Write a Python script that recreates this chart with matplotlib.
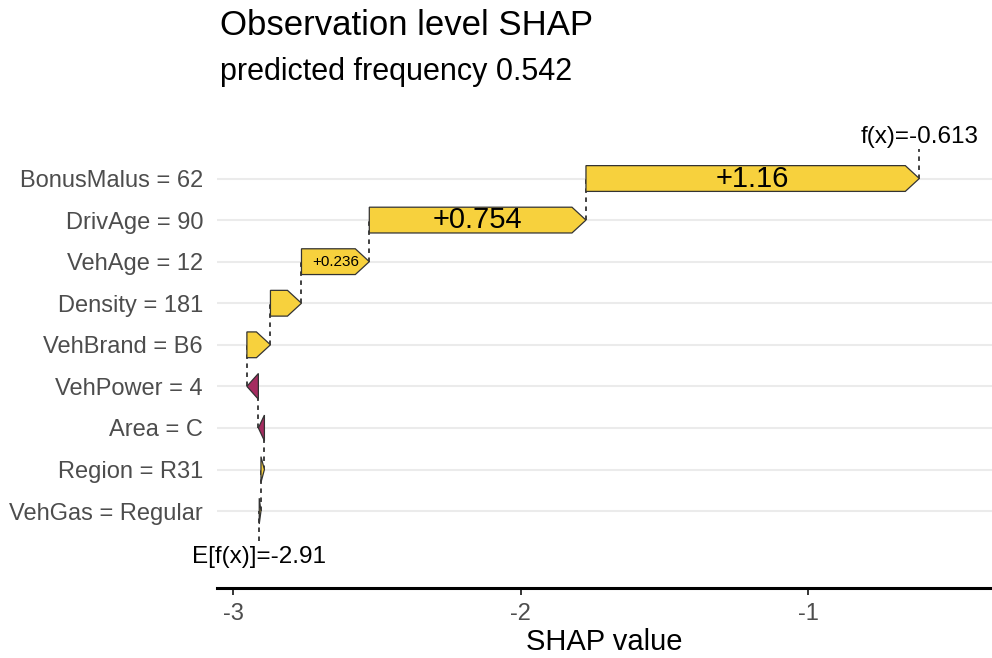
import numpy as np
import matplotlib.pyplot as plt
from matplotlib.patches import Polygon

plt.rcParams['font.family'] = ['Liberation Sans', 'DejaVu Sans']

# Features from bottom to top (order of accumulation)
features = ["VehGas = Regular", "Region = R31", "Area = C", "VehPower = 4",
            "VehBrand = B6", "Density = 181", "VehAge = 12", "DrivAge = 90",
            "BonusMalus = 62"]
shap_vals = [0.006, 0.012, -0.021, -0.040, 0.082, 0.108, 0.236, 0.754, 1.16]
base_value = -2.91
pred_value = -0.613
xticks = [-3, -2, -1]

pos_col = "#f7d13d"
neg_col = "#a52c60"

fig = plt.figure(figsize=(9.92, 6.58), dpi=100)
ax = fig.add_axes([217 / 992, 1 - 588 / 658, 1 - 217 / 992, (588 - 112) / 658])
xmin, xmax = -3.057, -0.36
ax.set_xlim(xmin, xmax)
ax.set_ylim(-0.85, 10.6)

# pixels -> data units
px_x = (xmax - xmin) / (992 - 217)
head = 14 * px_x
half_h = 0.31

n = len(features)
ypos = np.arange(1, n + 1)
starts = base_value + np.concatenate([[0], np.cumsum(shap_vals)[:-1]])
ends = base_value + np.cumsum(shap_vals)

for y in ypos:
    ax.axhline(y, color="#ebebeb", lw=1.5, zorder=0)

# dashed connectors
dash = dict(color="#333333", lw=1.3, ls=(0, (2.5, 2.5)), zorder=1)
ax.plot([base_value, base_value], [0.28, 1], **dash)
for i in range(n - 1):
    ax.plot([ends[i], ends[i]], [ypos[i], ypos[i + 1]], **dash)
ax.plot([pred_value, pred_value], [ypos[-1], 9.72], **dash)

for y, s, e, v in zip(ypos, starts, ends, shap_vals):
    d = np.sign(e - s)
    w = abs(e - s)
    if w > head:
        pts = [(s, y - half_h), (e - d * head, y - half_h), (e, y),
               (e - d * head, y + half_h), (s, y + half_h)]
    else:
        pts = [(s, y - half_h), (e, y), (s, y + half_h)]
    ax.add_patch(Polygon(pts, closed=True, facecolor=pos_col if v > 0 else neg_col,
                         edgecolor="#333333", lw=0.9, zorder=2))
    if abs(v) > 0.2:
        fs = 21 if abs(v) > 0.5 else 11
        ax.text((s + e) / 2, y, f"{v:+.3g}", ha="center", va="center",
                fontsize=fs, color="black", zorder=3)

ax.text(base_value, -0.1, f"E[f(x)]={base_value:.3g}", ha="center", va="center",
        fontsize=17.5, color="black")
ax.text(pred_value, 10, f"f(x)={pred_value:.3g}", ha="center", va="center",
        fontsize=17.5, color="black")

ax.set_yticks(ypos)
ax.set_yticklabels(features, fontsize=17, color="#4d4d4d")
ax.set_xticks(xticks)
ax.set_xticklabels([str(t) for t in xticks], fontsize=17, color="#4d4d4d")
ax.tick_params(axis="y", length=0, pad=10)
ax.tick_params(axis="x", length=5, width=1.1, pad=6)
ax.set_xlabel("SHAP value", fontsize=21, labelpad=2)

for side in ["top", "right", "left"]:
    ax.spines[side].set_visible(False)
ax.spines["bottom"].set_linewidth(2.2)

fig.text(220 / 992, 1 - 35 / 658, "Observation level SHAP", fontsize=25, va="baseline")
fig.text(220 / 992, 1 - 80 / 658, "predicted frequency 0.542", fontsize=22, va="baseline")

fig.savefig("out.png", dpi=100)
